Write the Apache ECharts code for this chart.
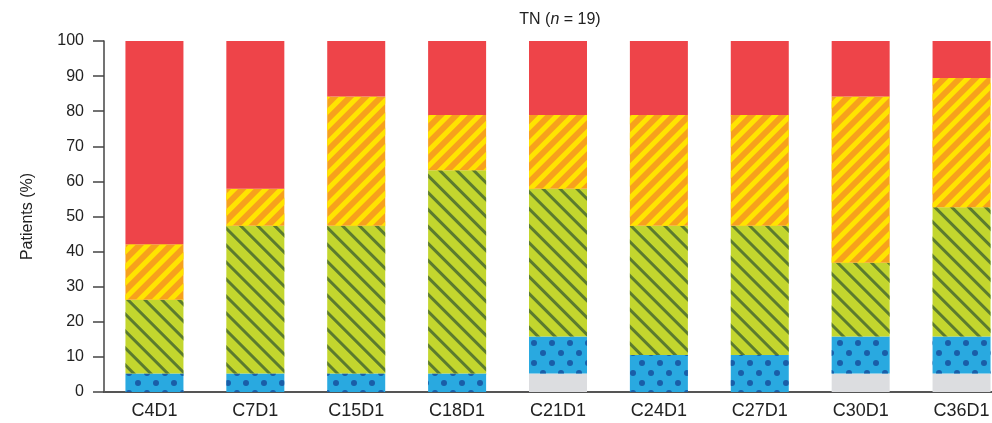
<!DOCTYPE html>
<html>
<head>
<meta charset="utf-8">
<script src="https://cdn.jsdelivr.net/npm/echarts@6/dist/echarts.min.js"></script>
<style>
  html, body { margin: 0; padding: 0; background: #fff; overflow: hidden; }
  #wrap { width: 992px; height: 423px; overflow: hidden; }
  #chart { width: 1012px; height: 423px; }
</style>
</head>
<body>
<div id="wrap"><div id="chart"></div></div>
<script>
// Visits (cycle/day) along the x axis
const categories = ['C4D1', 'C7D1', 'C15D1', 'C18D1', 'C21D1', 'C24D1', 'C27D1', 'C30D1', 'C36D1'];

// Share of patients (%) per response category, n = 19, bottom to top
const grayValues   = [0, 0, 0, 0, 5.26, 0, 0, 5.26, 5.26];
const blueValues   = [5.26, 5.26, 5.26, 5.26, 10.53, 10.53, 10.53, 10.53, 10.53];
const greenValues  = [21.05, 42.11, 42.11, 57.89, 42.11, 36.84, 36.84, 21.05, 36.84];
const orangeValues = [15.79, 10.53, 36.84, 15.79, 21.05, 31.58, 31.58, 47.37, 36.84];
const redValues    = [57.89, 42.11, 15.79, 21.05, 21.05, 21.05, 21.05, 15.79, 10.53];

const yTicks = { min: 0, max: 100, interval: 10 };

const FONT = '"Liberation Sans", Arial, sans-serif';

function stackSeries(name, data, color, decal) {
  return {
    name: name,
    type: 'bar',
    stack: 'total',
    data: data,
    barWidth: 58,
    itemStyle: decal ? { color: color, decal: decal } : { color: color },
    emphasis: { disabled: true }
  };
}

const chart = echarts.init(document.getElementById('chart'), null, { renderer: 'canvas' });

chart.setOption({
  animation: false,
  backgroundColor: '#ffffff',
  title: {
    text: '{a|TN (}{i|n}{a| = 19)}',
    left: 555,
    top: 7,
    textAlign: 'center',
    textStyle: {
      fontWeight: 'normal',
      rich: {
        a: { fontFamily: FONT, fontSize: 16, color: '#222', fontWeight: 'normal' },
        i: { fontFamily: FONT, fontSize: 16, color: '#222', fontWeight: 'normal', fontStyle: 'italic' }
      }
    }
  },
  grid: { left: 104, top: 41, width: 908, height: 351 },
  xAxis: {
    type: 'category',
    data: categories,
    axisLine: { lineStyle: { color: '#555', width: 2 } },
    axisTick: { show: false },
    axisLabel: { fontFamily: FONT, fontSize: 18, color: '#222', margin: 10 }
  },
  yAxis: {
    type: 'value',
    min: yTicks.min,
    max: yTicks.max,
    interval: yTicks.interval,
    name: 'Patients (%)',
    nameLocation: 'middle',
    nameGap: 68,
    nameTextStyle: { fontFamily: FONT, fontSize: 16, color: '#222' },
    axisLine: { show: true, lineStyle: { color: '#444', width: 1.5 } },
    axisTick: { show: true, length: 11, lineStyle: { color: '#444', width: 1.5 } },
    axisLabel: { fontFamily: FONT, fontSize: 16, color: '#222', margin: 20 },
    splitLine: { show: false }
  },
  series: [
    stackSeries('gray', grayValues, '#dcdde0'),
    stackSeries('blue', blueValues, '#29a9e0', {
      symbol: 'circle',
      symbolSize: 1,
      color: '#1a5ea8',
      dashArrayX: [[6, 12], [0, 9, 6, 3]],
      dashArrayY: [6, 4]
    }),
    stackSeries('green', greenValues, '#c3d62e', {
      symbol: 'rect',
      symbolSize: 1,
      color: '#5b7b2e',
      dashArrayX: [1, 0],
      dashArrayY: [3, 9],
      rotation: Math.PI / 4
    }),
    stackSeries('orange', orangeValues, '#f7a11c', {
      symbol: 'rect',
      symbolSize: 1,
      color: '#ffe400',
      dashArrayX: [1, 0],
      dashArrayY: [5, 6],
      rotation: -Math.PI / 4
    }),
    stackSeries('red', redValues, '#ee4449')
  ]
});
</script>
</body>
</html>
